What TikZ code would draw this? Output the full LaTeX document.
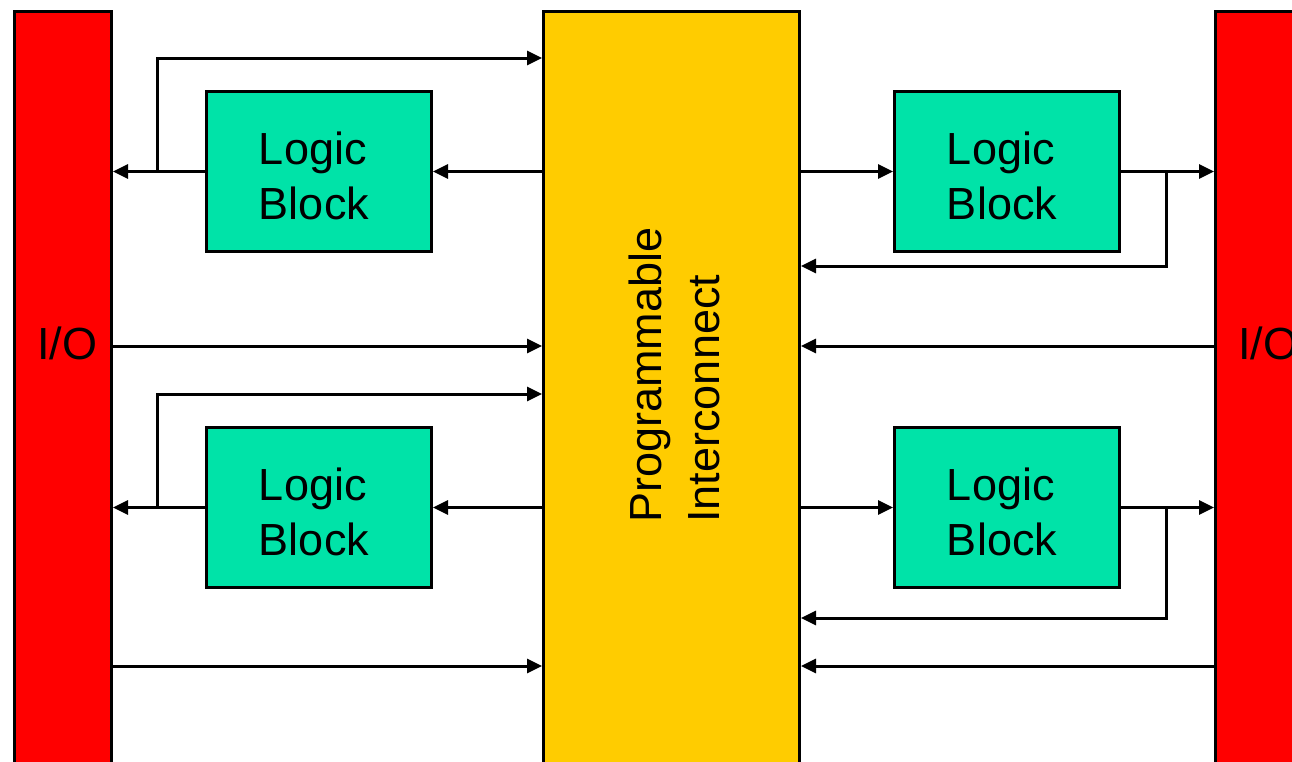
\documentclass[tikz,border=0pt]{standalone}
\usepackage{fontspec}
\setmainfont{Liberation Sans}
\usetikzlibrary{arrows.meta}
\definecolor{ioRed}{HTML}{FF0000}
\definecolor{lbGreen}{HTML}{00E3A8}
\definecolor{piYellow}{HTML}{FFCC00}
\begin{document}
\begin{tikzpicture}[x=1pt,y=-1pt,
  box/.style={draw=black, line width=3pt, inner sep=0pt, anchor=north west},
  iobox/.style={box, fill=ioRed},
  lbox/.style={box, fill=lbGreen, minimum width=225pt, minimum height=160pt},
  ltext/.style={font=\fontsize{45}{55}\selectfont, align=left, text=black, inner sep=0pt},
  arr/.style={line width=3pt, -{Triangle[length=15pt,width=14pt]}},
  lbl/.style={font=\fontsize{45}{58}\selectfont}
]
\useasboundingbox (0,0) rectangle (1292,761);
\clip (0,0) rectangle (1292,761);
\fill[white] (0,0) rectangle (1292,761);

% I/O columns and interconnect
\node[iobox, minimum width=97pt, minimum height=800pt] (io1) at (13,10) {};
\node[iobox, minimum width=97pt, minimum height=800pt] (io2) at (1214,10) {};
\node[box, fill=piYellow, minimum width=256pt, minimum height=800pt] (pi) at (542,10) {};
\node[lbl, anchor=west, inner sep=0pt] (io1t) at (37,343) {I/O};
\node[lbl, anchor=west, inner sep=0pt] (io2t) at (1238,343) {I/O};
\node[lbl, rotate=90, align=left, anchor=center] (pit) at (674,375) {Programmable\\Interconnect};

% logic blocks
\node[lbox] (lb1) at (205,90) {};
\node[lbox] (lb2) at (205,426) {};
\node[lbox] (lb3) at (893,90) {};
\node[lbox] (lb4) at (893,426) {};
\node[ltext] (lb1t) at ([shift={(-5,4)}]lb1.center) {Logic\\Block};
\node[ltext] (lb2t) at ([shift={(-5,4)}]lb2.center) {Logic\\Block};
\node[ltext] (lb3t) at ([shift={(-5,4)}]lb3.center) {Logic\\Block};
\node[ltext] (lb4t) at ([shift={(-5,4)}]lb4.center) {Logic\\Block};

% branch points
\coordinate (b1) at (157,170);
\coordinate (b2) at (157,506);
\coordinate (b3) at (1166,170);
\coordinate (b4) at (1166,506);
\coordinate (t1) at (157,58);
\coordinate (t2) at (157,394);
\coordinate (t3) at (1166,266);
\coordinate (t4) at (1166,618);
\coordinate (r1) at (0,346);
\coordinate (r2) at (0,666);

% left side
\draw[arr] (pi.west |- lb1.east) -- (lb1.east);
\draw[arr] (lb1.west) -- (lb1.west -| io1.east);
\draw[arr] (b1) -- (t1) -- (t1 -| pi.west);
\draw[arr] (pi.west |- lb2.east) -- (lb2.east);
\draw[arr] (lb2.west) -- (lb2.west -| io1.east);
\draw[arr] (b2) -- (t2) -- (t2 -| pi.west);
\draw[arr] (io1.east |- r1) -- (pi.west |- r1);
\draw[arr] (io1.east |- r2) -- (pi.west |- r2);

% right side
\draw[arr] (pi.east |- lb3.west) -- (lb3.west);
\draw[arr] (lb3.east) -- (lb3.east -| io2.west);
\draw[arr] (b3) -- (t3) -- (t3 -| pi.east);
\draw[arr] (pi.east |- lb4.west) -- (lb4.west);
\draw[arr] (lb4.east) -- (lb4.east -| io2.west);
\draw[arr] (b4) -- (t4) -- (t4 -| pi.east);
\draw[arr] (io2.west |- r1) -- (pi.east |- r1);
\draw[arr] (io2.west |- r2) -- (pi.east |- r2);
\end{tikzpicture}
\end{document}
